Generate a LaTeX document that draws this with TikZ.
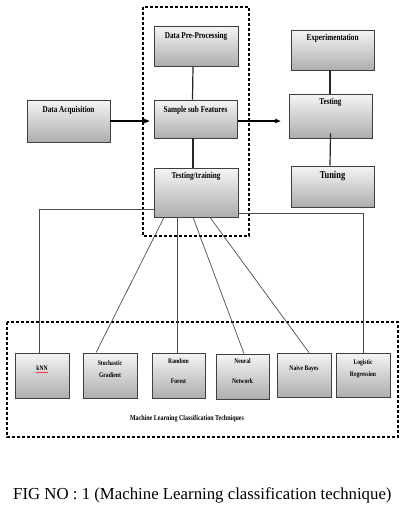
\documentclass[tikz,border=0pt]{standalone}
\usepackage{fontspec}
\setmainfont{Liberation Serif}
\newfontfamily\cond{Liberation Serif}[FakeStretch=0.8]
\usetikzlibrary{arrows.meta,shadows,decorations.pathmorphing}
\tikzset{
  box/.style={draw=black!75, line width=0.8pt, top color=black!4, bottom color=black!32,
    drop shadow={shadow xshift=1.2pt, shadow yshift=-1.2pt, fill=black!70, opacity=.7},
    inner sep=0pt},
  toptxt/.style={font=\cond\bfseries\fontsize{9}{10}\selectfont, inner sep=0pt},
  bottxt/.style={font=\cond\bfseries\fontsize{7}{8}\selectfont, inner sep=0pt, align=center},
  conn/.style={draw=black!70, line width=0.7pt},
  link/.style={draw=black!85, line width=1.2pt},
  flow/.style={draw=black, line width=1.6pt, -{Stealth[length=6pt,width=5pt]}},
  group/.style={draw=black, line width=1.2pt, dash pattern=on 3pt off 2pt}
}
\begin{document}
\begin{tikzpicture}[x=1pt,y=-1pt]
\useasboundingbox (0,0) rectangle (418,513);
% groups
\draw[group] (143,7) rectangle (249,236);
\draw[group] (7,322) rectangle (398,437);
% top boxes
\node[box, minimum width=84pt, minimum height=40pt] (dp) at (196,46) {};
\node[box, minimum width=83pt, minimum height=38pt] (ssf) at (195.5,119) {};
\node[box, minimum width=84pt, minimum height=49pt] (tt) at (196,192.5) {};
\node[box, minimum width=83pt, minimum height=42pt] (da) at (68.5,121) {};
\node[box, minimum width=83pt, minimum height=40pt] (exp) at (332.5,50) {};
\node[box, minimum width=83pt, minimum height=44pt] (tst) at (330.5,116) {};
\node[box, minimum width=83pt, minimum height=41pt] (tun) at (332.5,186.5) {};
\node[toptxt] (dpt) at (196,36) {Data Pre-Processing};
\node[toptxt] (ssft) at (195.5,110) {Sample sub Features};
\node[toptxt] (ttt) at (196,176) {Testing/training};
\node[toptxt] (dat) at (68.5,110) {Data Acquisition};
\node[toptxt] (expt) at (332.5,38) {Experimentation};
\node[toptxt] (tstt) at (330.5,102) {Testing};
\node[toptxt, font=\cond\bfseries\fontsize{10.5}{11}\selectfont] (tunt) at (332.5,176) {Tuning};
% bottom boxes
\node[box, minimum width=54pt, minimum height=45pt] (knn) at (42,375.5) {};
\node[box, minimum width=54pt, minimum height=45pt] (sg) at (110,375.5) {};
\node[box, minimum width=53pt, minimum height=45pt] (rf) at (178.5,375.5) {};
\node[box, minimum width=53pt, minimum height=45pt] (nn) at (242.5,376.5) {};
\node[box, minimum width=54pt, minimum height=44pt] (nb) at (304,375) {};
\node[box, minimum width=54pt, minimum height=44pt] (lr) at (363,375) {};
\node[bottxt] (knnt) at (42,368) {kNN};
\draw[red, line width=0.5pt, decorate, decoration={snake, amplitude=0.5pt, segment length=2pt}] (36,372.5) -- (48,372.5);
\node[bottxt] (sg1) at (110,363) {Stochastic};
\node[bottxt] (sg2) at (110,375) {Gradient};
\node[bottxt] (rf1) at (178.5,361) {Random};
\node[bottxt] (rf2) at (178.5,381) {Forest};
\node[bottxt] (nn1) at (242.5,361) {Neural};
\node[bottxt] (nn2) at (242.5,381) {Network};
\node[bottxt] (nbt) at (304,369) {Naive Bayes};
\node[bottxt] (lr1) at (363,363) {Logistic};
\node[bottxt] (lr2) at (363,375) {Regression};
\node[bottxt, font=\cond\bfseries\fontsize{7.5}{8}\selectfont] (mlct) at (187,419) {Machine Learning Classification Techniques};
% connectors
\draw[link] ([xshift=-3pt]dp.south) -- ([xshift=-3pt]ssf.north);
\draw[link] ([xshift=-2.5pt]ssf.south) -- ([xshift=-3pt]tt.north);
\draw[link] ([xshift=-2.5pt]exp.south) -- ([xshift=-0.5pt]tst.north);
\draw[link] ([yshift=5pt]tst.south) -- ([xshift=-2.5pt]tun.north);
\draw[flow, shorten >=4pt] (da.east) -- (da.east -| ssf.west);
\draw[flow, shorten <=1pt, shorten >=8pt] ([yshift=-2pt]ssf.east) -- ([yshift=-2pt]ssf.east -| tst.west);
\draw[conn] ([yshift=-16.5pt]tt.west) -| ([xshift=-3pt]knn.north);
\draw[conn] ([yshift=-20.5pt]tt.east) -| (lr.north);
\draw[conn] ([xshift=-32pt]tt.south) -- ([xshift=-14pt]sg.north);
\draw[conn] ([xshift=-19pt]tt.south) -- ([xshift=-1.5pt]rf.north);
\draw[conn] ([xshift=-3pt]tt.south) -- ([xshift=1.5pt]nn.north);
\draw[conn] ([xshift=14pt]tt.south) -- ([xshift=5pt]nb.north);
% caption
\node[anchor=base west, inner sep=0pt, font=\fontsize{16.8}{19}\selectfont] (cap) at (13,499) {FIG NO : 1 (Machine Learning classification technique)};
\end{tikzpicture}
\end{document}
